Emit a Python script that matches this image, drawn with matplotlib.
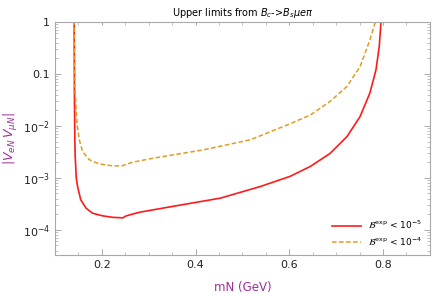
import matplotlib
matplotlib.use("Agg")
import matplotlib.pyplot as plt
from matplotlib.ticker import FixedLocator, NullFormatter, MultipleLocator

# limits for B(exp) < 1e-5
mN_red = [0.1410, 0.1415, 0.1425, 0.1432, 0.1455, 0.1483, 0.155, 0.166, 0.180,
          0.2015, 0.223, 0.245, 0.251, 0.272, 0.283, 0.368, 0.453, 0.538,
          0.602, 0.645, 0.687, 0.723, 0.751, 0.772, 0.785, 0.792, 0.796, 0.797]
v_red = [2.0, 0.05, 5e-3, 2.6e-3, 1.0e-3, 6.8e-4, 3.8e-4, 2.63e-4, 2.09e-4,
         1.86e-4, 1.74e-4, 1.70e-4, 1.84e-4, 2.08e-4, 2.2e-4, 3.0e-4, 4.07e-4,
         6.8e-4, 1.07e-3, 1.66e-3, 2.95e-3, 6.2e-3, 1.51e-2, 4.3e-2, 0.12,
         0.34, 1.1, 2.0]

# limits for B(exp) < 1e-4
mN_orange = [0.1410, 0.1428, 0.147, 0.152, 0.159, 0.173, 0.194, 0.223, 0.2425,
             0.258, 0.272, 0.311, 0.418, 0.517, 0.602, 0.645, 0.687, 0.723,
             0.751, 0.772, 0.785, 0.790]
v_orange = [2.0, 0.049, 0.0112, 5.4e-3, 3.2e-3, 2.24e-3, 1.86e-3, 1.70e-3,
            1.70e-3, 1.9e-3, 2.05e-3, 2.4e-3, 3.47e-3, 5.4e-3, 1.1e-2, 1.62e-2,
            2.95e-2, 5.75e-2, 0.138, 0.45, 1.1, 2.0]

y_ticks = [1e-4, 1e-3, 1e-2, 0.1, 1]
y_labels = [r"$10^{-4}$", r"$10^{-3}$", r"$10^{-2}$", "0.1", "1"]
x_ticks = [0.2, 0.4, 0.6, 0.8]

purple = "#9b2f9b"
frame = "#a8a8a8"

fig = plt.figure(figsize=(4.36, 2.96), dpi=100)
ax = fig.add_axes([0.126, 0.139, 0.860, 0.787])

ax.plot(mN_red, v_red, color="#ff1a1a", lw=1.2,
        label=r"$\mathcal{B}^{\rm exp}$ < $10^{-5}$")
ax.plot(mN_orange, v_orange, color="#e19c24", lw=1.1, ls=(0, (3, 1.6)),
        label=r"$\mathcal{B}^{\rm exp}$ < $10^{-4}$")

ax.set_yscale("log")
ax.set_xlim(0.1, 0.9)
ax.set_ylim(3.3e-5, 1)

ax.yaxis.set_major_locator(FixedLocator(y_ticks))
ax.set_yticklabels(y_labels)
ax.yaxis.set_minor_locator(FixedLocator(
    [m * 10.0**e for e in range(-5, 0) for m in range(2, 10)]))
ax.yaxis.set_minor_formatter(NullFormatter())
ax.xaxis.set_major_locator(FixedLocator(x_ticks))
ax.set_xticklabels(["0.2", "0.4", "0.6", "0.8"])
ax.xaxis.set_minor_locator(MultipleLocator(0.05))

ax.tick_params(which="both", direction="in", top=True, right=True,
               color=frame, labelsize=8, labelcolor="#222222")
ax.tick_params(which="major", length=4, width=0.7)
ax.tick_params(which="minor", length=2, width=0.5)
for s in ax.spines.values():
    s.set_color(frame)
    s.set_linewidth(0.8)

# top ticks are light green, right ticks lavender
for t in ax.xaxis.get_major_ticks() + ax.xaxis.get_minor_ticks():
    t.tick2line.set_color("#9ee39e")
    t.tick2line.set_markersize(2.5)
for t in ax.yaxis.get_major_ticks() + ax.yaxis.get_minor_ticks():
    t.tick2line.set_color("#b4b4ea")

ax.set_title(r"Upper limits from $B_c$->$B_s\mu e\pi$", fontsize=7, pad=4)
ax.set_xlabel("mN (GeV)", color=purple, fontsize=8.5, labelpad=8)
ax.set_ylabel(r"$|V_{eN}\,V_{\mu N}|$", color=purple, fontsize=9, labelpad=2)

ax.legend(loc="lower right", fontsize=6.5, frameon=False, handlelength=3.2,
          borderaxespad=0.4, labelspacing=0.5)

fig.savefig("out.png", dpi=100)
